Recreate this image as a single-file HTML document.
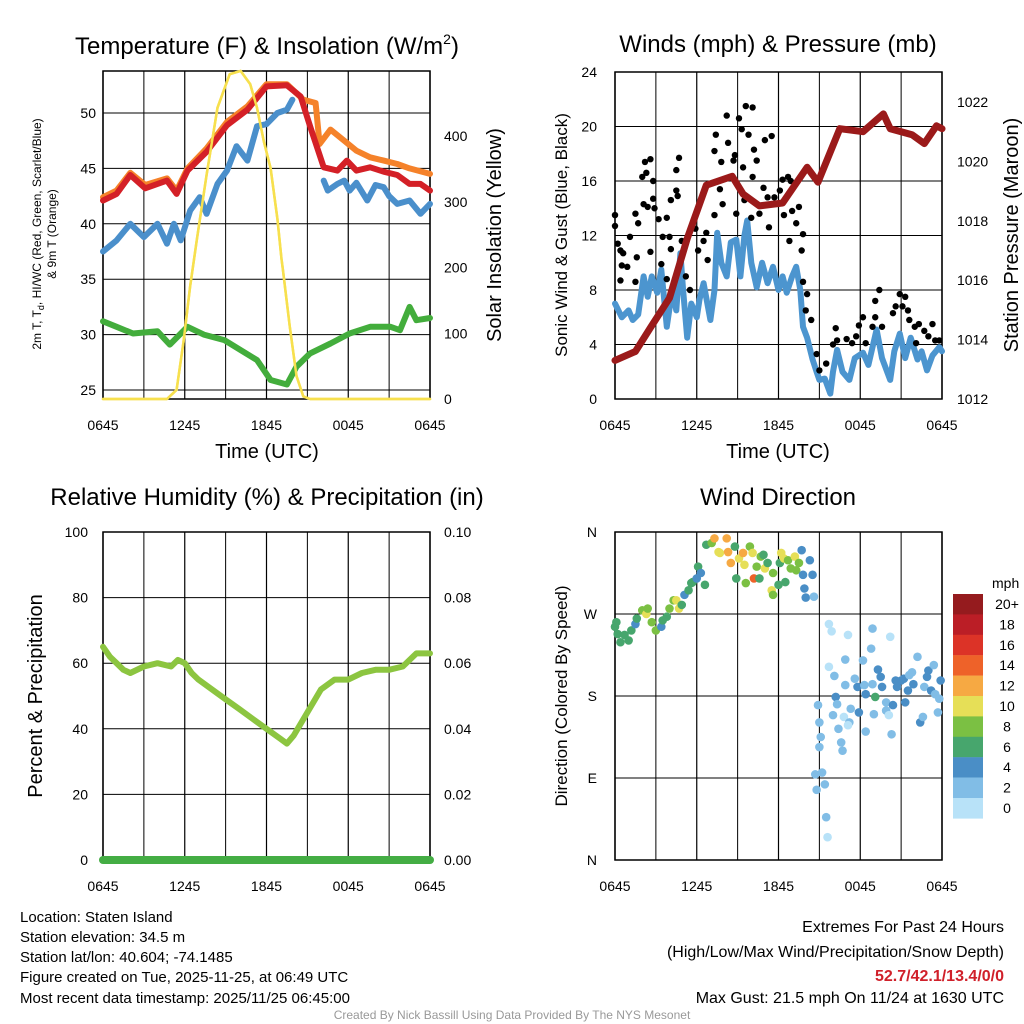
<!DOCTYPE html>
<html><head><meta charset="utf-8"><style>
body{margin:0;background:#fff;}
svg{display:block;font-family:"Liberation Sans",Arial,sans-serif;}
</style></head><body>
<svg id="s" width="1024" height="1024" viewBox="0 0 1024 1024" xmlns="http://www.w3.org/2000/svg">
<g id="bg"></g>
<text x="267" y="54" font-size="24" text-anchor="middle">Temperature (F) &amp; Insolation (W/m<tspan font-size="14" dy="-10">2</tspan><tspan dy="10">)</tspan></text>
<text x="778" y="52" font-size="24" text-anchor="middle">Winds (mph) &amp; Pressure (mb)</text>
<text x="267" y="505" font-size="24" text-anchor="middle">Relative Humidity (%) &amp; Precipitation (in)</text>
<text x="778" y="505" font-size="24" text-anchor="middle">Wind Direction</text>
<text x="267" y="458" font-size="20" text-anchor="middle">Time (UTC)</text>
<text x="778" y="458" font-size="20" text-anchor="middle">Time (UTC)</text>
<text transform="translate(41,234) rotate(-90)" font-size="12" text-anchor="middle">2m T, T<tspan font-size="9" dy="3">d</tspan><tspan dy="-3">, HI/WC (Red, Green, Scarlet/Blue)</tspan></text>
<text transform="translate(56,234) rotate(-90)" font-size="12" text-anchor="middle">&amp; 9m T (Orange)</text>
<text transform="translate(501,235) rotate(-90)" font-size="20" text-anchor="middle">Solar Insolation (Yellow)</text>
<text transform="translate(567,235) rotate(-90)" font-size="17" text-anchor="middle">Sonic Wind &amp; Gust (Blue, Black)</text>
<text transform="translate(1018,235) rotate(-90)" font-size="20" text-anchor="middle">Station Pressure (Maroon)</text>
<text transform="translate(42,696) rotate(-90)" font-size="20" text-anchor="middle">Percent &amp; Precipitation</text>
<text transform="translate(567,696) rotate(-90)" font-size="17" text-anchor="middle">Direction (Colored By Speed)</text>
<g font-size="15">
<text x="20" y="922">Location: Staten Island</text>
<text x="20" y="942">Station elevation: 34.5 m</text>
<text x="20" y="962">Station lat/lon: 40.604; -74.1485</text>
<text x="20" y="982">Figure created on Tue, 2025-11-25, at 06:49 UTC</text>
<text x="20" y="1003">Most recent data timestamp: 2025/11/25 06:45:00</text>
</g>
<g font-size="16" text-anchor="end">
<text x="1004" y="932">Extremes For Past 24 Hours</text>
<text x="1004" y="957">(High/Low/Max Wind/Precipitation/Snow Depth)</text>
<text x="1004" y="981" fill="#d0202a" font-weight="bold">52.7/42.1/13.4/0/0</text>
<text x="1004" y="1003">Max Gust: 21.5 mph On 11/24 at 1630 UTC</text>
</g>
<text x="512" y="1019" font-size="12" fill="#999" text-anchor="middle">Created By Nick Bassill Using Data Provided By The NYS Mesonet</text>
<g id="fg"></g>
</svg>
<script>
// ---- Temperature panel data (hours since 0645 UTC) ----
const redT=[0,1,2,3.1,4.7,5.4,6.2,7.6,9.1,10.6,12,13.5,14.5,15.2,16.2,17.2,17.9,18.6,19.6,20.6,21.6,22.5,23.3,24];
const redV=[42.1,42.7,44.4,43.2,43.9,42.7,44.8,46.5,48.9,50.3,52.4,52.5,51.5,48.8,45.1,44.8,45.7,44.8,45.1,44.7,44.4,43.6,43.6,43.0];
const orgT=[0,1,2,3.1,4.7,5.4,6.2,7.6,9.1,10.6,12,13.5,14.7,15.6,15.9,16.7,17.7,18.6,19.6,20.6,21.6,22.5,24];
const orgV=[42.4,43,44.6,43.5,44.1,43,45,46.8,49.2,50.6,52.6,52.6,51.2,50.9,47.2,48.5,47.5,46.6,46.0,45.7,45.4,45.0,44.5];
const bluT=[0,1,2,3,4,4.7,5.2,5.7,6.4,7.1,7.6,8.4,9.1,9.8,10.6,11.3,12,12.8,13.5,13.9,14.0,16.2,16.5,17.2,17.7,18.1,18.6,19.4,20.0,20.6,21.0,21.6,22.5,23.3,24];
const bluV=[37.5,38.5,40,38.8,40,38.2,40,38.5,41.2,42.4,40.9,43.6,44.8,47,45.7,48.8,49,50,50.3,51.2,null,43.9,43.0,43.6,43.9,43.0,43.7,42.1,43.5,43.3,42.5,41.8,42.1,40.9,41.8];
const grnT=[0,1,2.2,4,4.9,6.2,7.4,8.9,10.1,11.3,12.3,13.5,14.2,15.2,16.7,18.1,19.6,21.1,21.8,22.5,23,24];
const grnV=[31.2,30.7,30.1,30.3,29.1,30.7,30,29.5,28.6,27.7,25.9,25.5,27.1,28.3,29.2,30.1,30.7,30.7,30.4,32.5,31.3,31.5];
const solT=[0,4.7,5.4,5.9,6.4,6.9,7.6,8.4,9.3,10.1,10.8,11.3,11.8,12.3,12.8,13.1,13.2,13.7,14.2,14.7,15.2,24];
const solV=[0,0,14,86,172,244,341,443,494,499,479,443,392,351,274,213,198,111,35,4,0,0];
// ---- Wind panel data ----
const presT=[0,1.5,2.6,4.0,5.3,6.7,8.6,9.4,10.6,12.3,14.1,14.9,16.5,18.2,19.7,20.2,21.8,22.7,23.6,24];
const presV=[1013.3,1013.6,1014.4,1015.4,1017.4,1019.2,1019.5,1018.9,1018.5,1018.6,1019.8,1019.3,1021.1,1021.0,1021.6,1021.1,1020.9,1020.6,1021.2,1021.1];
const sustT=[0,0.5,1.0,1.3,1.7,2.1,2.4,2.7,3.1,3.4,3.8,4.2,4.5,4.8,5.0,5.3,5.6,6.0,6.2,6.5,7.0,7.3,7.5,7.8,8.2,8.5,8.9,9.2,9.5,9.7,10.0,10.4,10.8,11.2,11.6,12.0,12.3,12.6,13.0,13.3,13.6,13.8,14.1,14.5,14.8,15.0,15.4,15.8,16.0,16.3,16.7,17.2,17.6,18.2,18.6,19.2,19.6,20.2,20.5,20.9,21.3,21.7,22.2,22.5,22.9,23.3,23.8,24];
const sustV=[7,6,6.5,5.8,6.2,9,7.5,9,7.8,9.5,5.3,8,6.5,10.7,8,4.5,7,6,7.3,8.5,5.8,8,12.2,10,9,11.5,11.7,9,12,13.1,10,8.2,10,8.5,9.7,8,9,7.8,9,9.7,8,5.3,4.5,2.9,2,1.4,1.5,0.4,2,3.6,2,1.4,3,3.4,2.5,5.1,3,1.4,3.5,4.8,3,4.5,2.9,3.5,2.1,3.2,3.8,3.5];
const gustT=[0,0,0.2,0.4,0.6,0.5,0.9,0.4,1.1,1.5,1.6,1.5,1.7,2.0,2.2,2.6,2.3,2.1,2.4,2.8,2.8,2.9,3.2,2.6,3.4,3.5,3.8,3.8,4.0,4.1,4.1,4.5,4.6,4.7,4.5,4.9,5.2,5.5,5.9,6.1,6.5,6.7,6.8,7.3,7.4,7.3,7.7,7.9,7.8,8.2,8.3,8.7,8.8,8.9,9.1,9.3,9.4,9.6,9.8,9.5,10.1,10.2,10.4,10.1,10.0,10.6,10.9,11.0,11.2,11.3,11.5,11.7,12.1,12.3,12.7,12.9,12.4,12.8,13.0,13.3,13.5,13.7,13.8,13.8,14.1,14.0,14.4,14.8,15.0,15.5,16.0,16.2,16.3,17.0,17.4,17.7,17.9,18.2,18.4,18.9,19.1,19.1,19.4,19.6,20.4,20.6,20.9,21.1,21.3,21.5,21.6,22.0,22.1,22.3,22.7,23.0,23.3,23.5,23.8];
const gustV=[13.5,12.7,11.4,10.9,10.7,9.8,9.7,8.7,11.9,8.6,10.4,13.6,12.9,16.3,17.4,17.6,16.6,14.3,14.1,16.0,14.7,14.0,13.2,10.8,9.9,11.9,13.3,8.8,11.9,14.6,11.0,15.3,14.9,17.7,16.8,11.6,9.0,8.0,12.5,10.9,11.6,12.2,10.2,13.5,19.4,18.2,15.4,14.3,17.4,20.8,18.8,17.5,17.9,13.6,20.6,19.8,17.0,21.5,19.4,14.6,21.4,18.3,17.5,16.3,13.3,13.6,15.5,19.0,14.8,12.6,19.3,14.8,15.3,16.1,16.3,16.0,13.5,11.6,13.8,12.9,14.1,10.9,12.1,8.6,7.7,6.5,5.8,3.3,2.1,2.6,4.0,5.2,4.3,4.4,4.1,4.6,5.4,6.0,4.1,5.3,6.0,7.2,8.0,5.3,6.3,6.8,7.7,6.8,7.5,6.5,5.8,5.3,4.1,5.5,5.0,4.6,5.5,4.3,4.3];
// ---- RH panel data ----
const rhT=[0,0.5,1,1.5,2,3,4,5,5.5,6,6.5,7,8,9,10,11,12,13,13.5,14,15,16,17,18,19,20,21,22,23,24];
const rhV=[65,62,60,58,57,59,60,59,61,60,57,55,52,49,46,43,40,37,35.5,38,45,52,55,55,57,58,58,59,63,63];
const precT=[0,24];
const precV=[0,0];
// ---- Wind direction data ----
const dirT=[0,0.1,0.2,0.4,0.7,1.0,1.2,1.5,1.6,2.0,2.3,2.4,2.7,3.0,3.4,3.5,3.8,4.0,4.3,4.5,4.7,4.9,5.1,5.4,5.6,5.7,6.0,6.1,6.3,6.6,6.7,7.1,7.3,7.6,7.7,8.2,8.3,8.5,8.8,8.9,9.1,9.4,9.5,9.6,9.9,10.1,10.2,10.4,10.6,10.7,10.9,11.0,11.2,11.5,11.6,11.6,12.0,12.1,12.2,12.4,12.5,12.7,12.9,13.2,13.3,13.5,13.7,13.8,13.9,14.0,14.3,14.5,14.6,
14.9,15.0,15.1,15.0,14.7,15.2,15.4,14.8,15.5,15.6,15.7,15.9,15.7,16.1,16.2,16.3,16.0,16.4,16.6,16.7,16.8,16.9,17.1,16.9,17.3,17.2,17.1,17.6,17.8,17.9,18.2,18.3,18.4,18.4,18.8,18.9,18.9,19.0,19.1,19.3,19.5,19.6,19.9,19.9,20.2,20.1,20.3,20.4,20.6,20.7,21.0,21.2,21.3,21.5,21.6,21.8,21.9,22.2,22.4,22.6,22.7,22.9,23.0,23.2,23.4,23.5,23.7,23.8,23.9];
const dirDeg=[256,261,248,239,247,241,252,259,265,274,270,276,261,252,256,263,267,276,285,285,276,280,291,296,304,305,309,322,315,302,346,348,353,338,337,353,338,326,344,309,331,337,324,304,344,337,309,322,309,333,335,320,326,296,315,291,302,326,337,331,305,329,320,333,318,326,340,313,298,288,329,313,289,
170,151,135,124,94,96,83,77,47,25,259,251,212,202,179,171,159,144,129,120,157,192,247,220,166,151,148,199,190,162,219,192,182,141,232,254,193,160,179,209,201,190,173,164,245,159,138,170,197,190,197,199,173,186,203,206,193,223,151,157,190,201,208,186,214,182,162,177,197];
const dirSpd=[6,6,6,6,6,6,6,4,6,8,10,8,8,8,4,6,6,8,8,10,10,6,4,6,6,6,4,6,4,6,6,8,12,10,10,12,12,12,6,6,10,12,10,8,8,10,14,8,6,8,6,10,6,10,8,8,6,6,10,10,6,8,8,10,8,8,4,4,4,4,4,4,2,
2,2,2,2,2,2,2,2,2,0,0,0,0,2,4,2,2,2,2,2,0,2,0,2,2,2,0,2,4,4,2,2,4,2,2,2,2,2,6,4,4,4,2,2,0,0,2,4,4,4,4,4,4,4,2,2,4,2,4,2,2,4,4,4,2,2,2,2,4];
const legLabels=["20+","18","16","14","12","10","8","6","4","2","0"];
const legColors=["#951b1e","#bb1e26","#dc3327","#ee6229","#f6a943","#e6df57","#7bc043","#47a66d","#4a8ec6","#81bde6","#b8e2f8"];
const xTickLabels=["0645","1245","1845","0045","0645"];

const NS="http://www.w3.org/2000/svg";
const bg=document.getElementById('bg'), fg=document.getElementById('fg');
function el(tag,attrs,parent){const e=document.createElementNS(NS,tag);for(const k in attrs)e.setAttribute(k,attrs[k]);(parent||fg).appendChild(e);return e;}
function lin(d0,d1,r0,r1){return v=>r0+(v-d0)/(d1-d0)*(r1-r0);}

function panel(x0,x1,y0,y1,hLines,name){
  const g=el('g',{},bg);
  
  
  const xs=lin(0,24,x0,x1);
  for(let h=0;h<=24;h+=3){el('line',{x1:xs(h),x2:xs(h),y1:y0,y2:y1,stroke:'#000','stroke-width':(h%6==0?1.2:1)},g);}
  hLines.forEach(y=>el('line',{x1:x0,x2:x1,y1:y,y2:y,stroke:'#000','stroke-width':1},g));
  el('rect',{x:x0,y:y0,width:x1-x0,height:y1-y0,fill:'none',stroke:'#000','stroke-width':1.5},g);
  xTickLabels.forEach((t,i)=>{const tx=el('text',{x:xs(i*6),y:y1+31,'font-size':14,'text-anchor':'middle'},bg);tx.textContent=t;
    
    });
  return xs;
}
function path(ts,vs,xs,ys,color,w,name){
  let d='',pen=false;
  for(let i=0;i<ts.length;i++){if(vs[i]===null){pen=false;continue;}d+=(pen?'L':'M')+xs(ts[i]).toFixed(1)+' '+ys(vs[i]).toFixed(1);pen=true;}
  const p=el('path',{d:d,fill:'none',stroke:color,'stroke-width':w,'stroke-linejoin':'round','stroke-linecap':'round'});
  
  
  return p;
}
function ticks(vals,ys,x,anchor,fmt,name){
  vals.forEach(v=>{const t=el('text',{x:x,y:ys(v)+5,'font-size':14,'text-anchor':anchor},bg);t.textContent=fmt(v);
    
    });
}

// Panel 1
{
  const yT=lin(25,50,390,113), yS=lin(0,400,399,136);
  const xs=panel(103,430,71,399,[25,30,35,40,45,50].map(yT),'temp');
  ticks([25,30,35,40,45,50],yT,96,'end',v=>v,'temp-y-tick');
  ticks([0,100,200,300,400],yS,444,'start',v=>v,'solar-y-tick');
  path(solT,solV,xs,yS,'#f7e04e',2.5,'solar-line');
  path(grnT,grnV,xs,yT,'#43ad3c',6,'dewpoint-line');
  path(bluT,bluV,xs,yT,'#4a8fcb',6,'windchill-line');
  path(orgT,orgV,xs,yT,'#f5822a',6,'temp-9m-line');
  path(redT,redV,xs,yT,'#d42027',6,'temp-2m-line');
  path(solT,solV,xs,yS,'#f7e04e',2.5,'solar-line-top');
}
// Panel 2
{
  const yW=lin(0,24,399,72), yP=lin(1012,1022,399,102);
  const xs=panel(615,942,72,399,[4,8,12,16,20].map(yW),'wind');
  ticks([0,4,8,12,16,20,24],yW,597,'end',v=>v,'wind-y-tick');
  ticks([1012,1014,1016,1018,1020,1022],yP,957,'start',v=>v,'pressure-y-tick');
  path(sustT,sustV,xs,yW,'#4c95cf',6,'sustained-wind-line');
  gustT.forEach((t,i)=>{const c=el('circle',{cx:xs(t),cy:yW(gustV[i]),r:3.2,fill:'#000'});
    
    });
  path(presT,presV,xs,yP,'#9b1a1a',7,'pressure-line');
}
// Panel 3
{
  const yR=lin(0,100,860,532), yPr=lin(0,0.1,860,532);
  const xs=panel(103,430,532,860,[20,40,60,80].map(yR),'rh');
  ticks([0,20,40,60,80,100],yR,88,'end',v=>v,'rh-y-tick');
  ticks([0,0.02,0.04,0.06,0.08,0.10],yPr,444,'start',v=>v.toFixed(2),'precip-y-tick');
  path(rhT,rhV,xs,yR,'#8cc540',6,'rh-line');
  path(precT,precV,xs,yPr,'#44ad44',8,'precip-line');
}
// Panel 4
{
  const yD=lin(0,360,860,532);
  const xs=panel(615,942,532,860,[90,180,270].map(yD),'direction');
  const dl=['N','E','S','W','N'];
  dl.forEach((l,i)=>{const t=el('text',{x:597,y:yD(i*90)+5,'font-size':14,'text-anchor':'end'},bg);t.textContent=l;
    
    });
  function col(s){const idx=Math.min(10,Math.floor(s/2));return legColors[10-idx];}
  dirT.forEach((t,i)=>{const c=el('circle',{cx:xs(t),cy:yD(dirDeg[i]),r:4.3,fill:col(dirSpd[i])});
    
    });
  const lg=el('g',{});
  
  
  const mt=el('text',{x:992,y:588,'font-size':14},lg);mt.textContent='mph';
  legLabels.forEach((l,i)=>{const y=594+i*20.4;
    el('rect',{x:953,y:y,width:30,height:20.6,fill:legColors[i]},lg);
    const t=el('text',{x:1007,y:y+15,'font-size':14,'text-anchor':'middle'},lg);t.textContent=l;
    
    });
}
</script>
</body></html>
